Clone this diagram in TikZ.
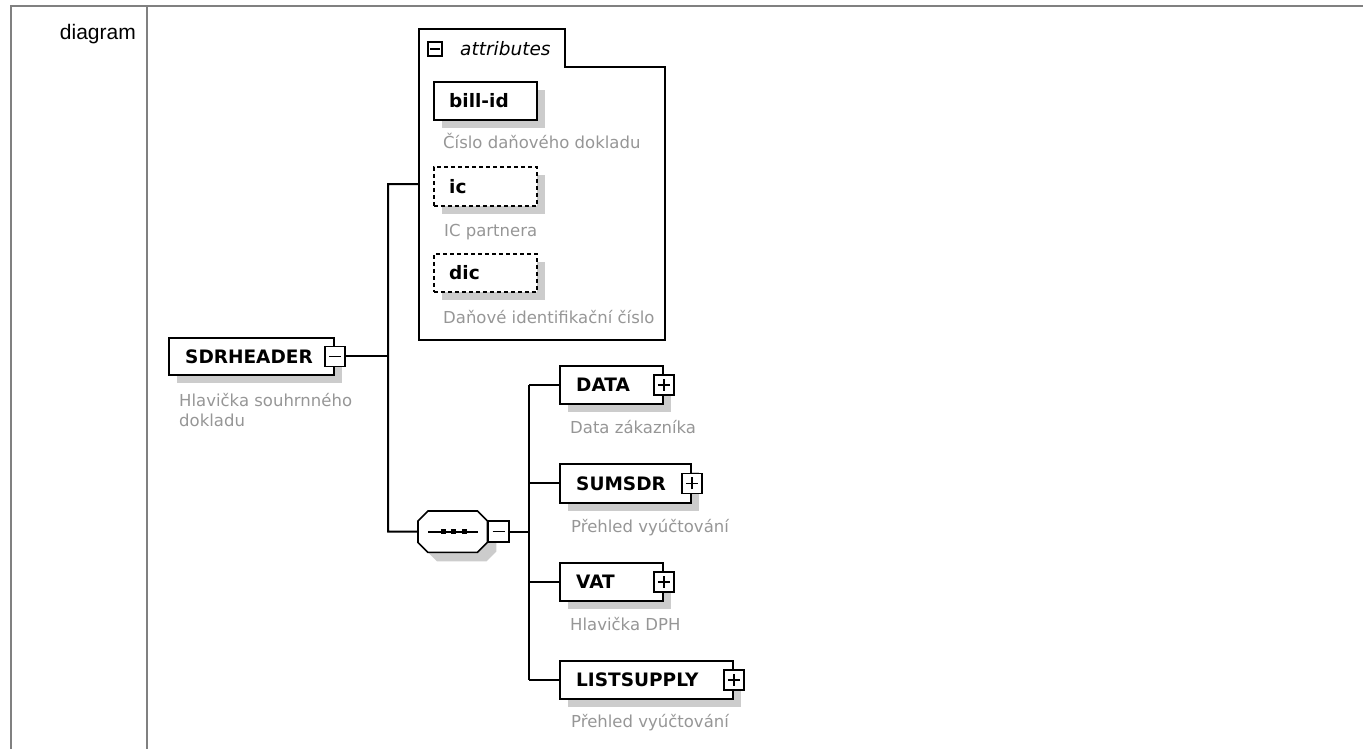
\documentclass[tikz,border=0pt]{standalone}
\usepackage{fontspec}
\setmainfont{DejaVu Sans}
\newfontfamily\arialf{Liberation Sans}
\definecolor{tblgray}{RGB}{128,128,128}
\definecolor{shadowgray}{RGB}{204,204,204}
\definecolor{descgray}{RGB}{150,150,150}
\tikzset{
  tbl/.style={draw=tblgray, line width=2pt},
  conn/.style={draw=black, line width=2pt},
  elbox/.style={draw=black, line width=1.9pt, fill=white, rectangle, inner sep=0pt, anchor=north west},
  optbox/.style={elbox, dash pattern=on 4pt off 3pt},
  shadowbox/.style={fill=shadowgray, draw=none, rectangle, inner sep=0pt, anchor=north west},
  elname/.style={font=\fontsize{18.5}{20}\selectfont\bfseries, inner sep=0pt, anchor=west},
  desc/.style={font=\fontsize{16.5}{20}\selectfont, text=descgray, inner sep=0pt, anchor=base west},
  pmicon/.style={draw=black, line width=1.5pt, fill=white, minimum width=20pt, minimum height=20pt, inner sep=0pt},
  iconline/.style={draw=black, line width=1.5pt},
}
\newcommand\seqoct[2]{%
  ([shift={(10pt+#1,#2)}]seq.north west) -- ([shift={(-10pt+#1,#2)}]seq.north east) --
  ([shift={(#1,-10pt+#2)}]seq.north east) -- ([shift={(#1,10pt+#2)}]seq.south east) --
  ([shift={(-10pt+#1,#2)}]seq.south east) -- ([shift={(10pt+#1,#2)}]seq.south west) --
  ([shift={(#1,10pt+#2)}]seq.south west) -- ([shift={(#1,-10pt+#2)}]seq.north west) -- cycle}
\begin{document}
\begin{tikzpicture}[x=1pt,y=-1pt]
\useasboundingbox (0,0) rectangle (1363,749);
% table frame
\draw[tbl] (11,749) -- (11,6) -- (1363,6);
\draw[tbl] (147,6) -- (147,749);
\node[font=\arialf\fontsize{21}{24}\selectfont, anchor=base east, inner sep=0pt] (lbl) at (136,39.5) {diagram};

% attributes box
\draw[line width=1.7pt] (419,29) -- (565,29) -- (565,67) -- (665,67) -- (665,340) -- (419,340) -- cycle;
\node[draw=black, line width=1.3pt, minimum width=14pt, minimum height=14pt, inner sep=0pt] (attricon) at (435,49) {};
\draw[iconline, line width=1.3pt] ([xshift=-5pt]attricon.center) -- ([xshift=5pt]attricon.center);
\node[font=\fontsize{18.5}{20}\selectfont\itshape, anchor=west, inner sep=0pt] (attrtxt) at (460,49) {attributes};

% bill-id
\node[shadowbox, minimum width=103pt, minimum height=38pt] (billsh) at (442,90) {};
\node[elbox, minimum width=103pt, minimum height=38pt] (bill) at (433,81) {};
\node[elname] (billtxt) at ([xshift=16pt]bill.west) {bill-id};
\node[desc] (billdesc) at (443,149) {Číslo daňového dokladu};

% ic
\node[shadowbox, minimum width=103pt, minimum height=39pt] (icsh) at (442,175) {};
\node[optbox, minimum width=103pt, minimum height=39pt] (ic) at (433,166) {};
\node[elname] (ictxt) at ([xshift=16pt]ic.west) {ic};
\node[desc] (icdesc) at (444,236) {IC partnera};

% dic
\node[shadowbox, minimum width=103pt, minimum height=38pt] (dicsh) at (442,262) {};
\node[optbox, minimum width=103pt, minimum height=38pt] (dic) at (433,253) {};
\node[elname] (dictxt) at ([xshift=16pt]dic.west) {dic};
\node[desc] (dicdesc) at (443,323) {Daňové identifikační číslo};

% SDRHEADER
\node[shadowbox, minimum width=165pt, minimum height=37pt] (sdrsh) at (177,346) {};
\node[elbox, minimum width=165pt, minimum height=37pt] (sdr) at (168,337) {};
\node[elname] (sdrtxt) at ([xshift=17pt]sdr.west) {SDRHEADER};
\node[pmicon] (sdricon) at (sdr.east) {};
\draw[iconline] ([xshift=-6pt]sdricon.center) -- ([xshift=6pt]sdricon.center);
\node[desc] (sdrdesc1) at (179,406) {Hlavička souhrnného};
\node[desc] (sdrdesc2) at (179,426) {dokladu};

% sequence
\node[inner sep=0pt, minimum width=69pt, minimum height=41pt, anchor=north west] (seq) at (418,511) {};
\fill[shadowgray] \seqoct{9pt}{-9pt};
\draw[line width=1.6pt, fill=white] \seqoct{0pt}{0pt};
\draw[line width=1.6pt] ([xshift=10pt]seq.west) -- ([xshift=-9pt]seq.east);
\foreach \sx in {25,35.5,46}{
  \fill ([shift={(\sx pt-2.5pt,-2.5pt)}]seq.west) rectangle ++(5pt,5pt);
}
\node[pmicon, minimum width=21pt, minimum height=21pt, anchor=west] (seqicon) at (seq.east) {};
\draw[iconline] ([xshift=-6pt]seqicon.center) -- ([xshift=6pt]seqicon.center);

% children
\node[shadowbox, minimum width=103pt, minimum height=38pt] (datash) at (568,374) {};
\node[elbox, minimum width=103pt, minimum height=38pt] (data) at (559,365) {};
\node[elname] (datatxt) at ([xshift=17pt]data.west) {DATA};
\node[desc] (datadesc) at (570,433) {Data zákazníka};

\node[shadowbox, minimum width=131pt, minimum height=39pt] (sumsh) at (568,472) {};
\node[elbox, minimum width=131pt, minimum height=39pt] (sum) at (559,463) {};
\node[elname] (sumtxt) at ([xshift=17pt]sum.west) {SUMSDR};
\node[desc] (sumdesc) at (571,532) {Přehled vyúčtování};

\node[shadowbox, minimum width=103pt, minimum height=38pt] (vatsh) at (568,571) {};
\node[elbox, minimum width=103pt, minimum height=38pt] (vat) at (559,562) {};
\node[elname] (vattxt) at ([xshift=17pt]vat.west) {VAT};
\node[desc] (vatdesc) at (570,630) {Hlavička DPH};

\node[shadowbox, minimum width=173pt, minimum height=38pt] (listsh) at (568,669) {};
\node[elbox, minimum width=173pt, minimum height=38pt] (list) at (559,660) {};
\node[elname] (listtxt) at ([xshift=17pt]list.west) {LISTSUPPLY};
\node[desc] (listdesc) at (571,727) {Přehled vyúčtování};

\foreach \n in {data,sum,vat,list}{
  \node[pmicon] (\n icon) at (\n.east) {};
  \draw[iconline] ([xshift=-6pt]\n icon.center) -- ([xshift=6pt]\n icon.center);
  \draw[iconline] ([yshift=-6pt]\n icon.center) -- ([yshift=6pt]\n icon.center);
}

% connectors
\coordinate (b1t) at (388,184);
\coordinate (attrleft) at (419,184);
\coordinate (b1b) at (388,531.5);
\draw[conn] (sdricon.east) -- (sdricon.east -| b1t);
\draw[conn] (attrleft) -- (b1t) -- (b1b) -- (seq.west);
\coordinate (b2x) at (529,0);
\draw[conn] (seqicon.east) -- (seqicon.east -| b2x);
\draw[conn] (data.west -| b2x) -- (list.west -| b2x);
\foreach \n in {data,sum,vat,list}{
  \draw[conn] (\n.west -| b2x) -- (\n.west);
}
\end{tikzpicture}
\end{document}
